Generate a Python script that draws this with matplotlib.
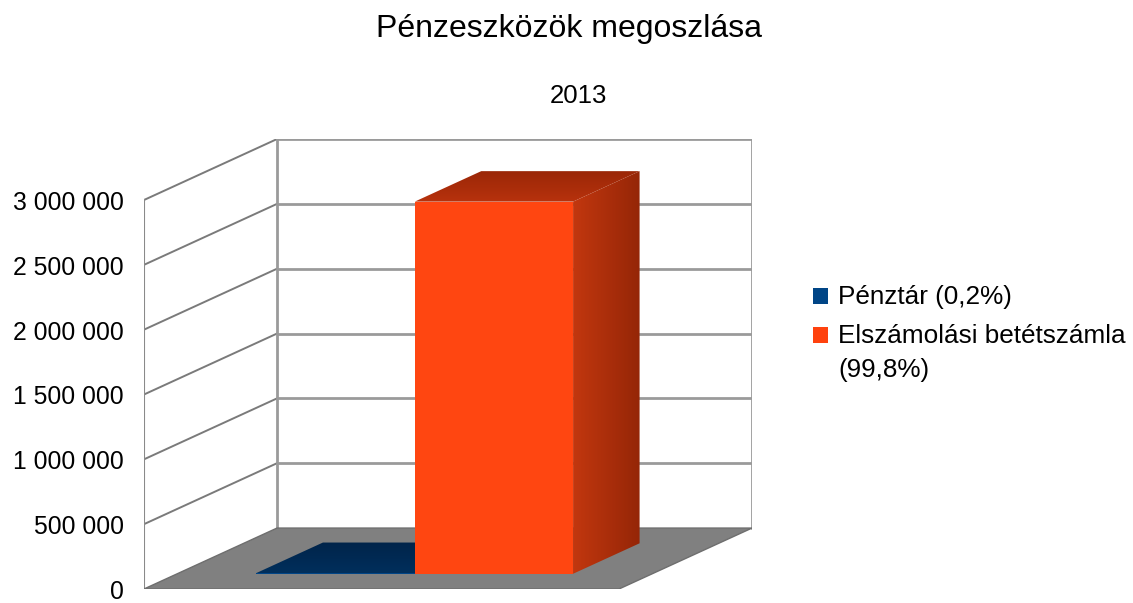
import matplotlib
matplotlib.use('Agg')
import matplotlib.pyplot as plt
import numpy as np
from matplotlib.patches import Polygon, Rectangle
from matplotlib.colors import to_rgb

plt.rcParams['font.family'] = ['Liberation Sans', 'DejaVu Sans']

# ---------------- data ----------------
title = 'Pénzeszközök megoszlása'
subtitle = '2013'
series_names = ['Pénztár (0,2%)', 'Elszámolási betétszámla\n(99,8%)']
values = [5800, 2870000]
series_colors = ['#004586', '#ff420e']
yticks = [0, 500000, 1000000, 1500000, 2000000, 2500000, 3000000]
ytick_labels = ['0', '500 000', '1 000 000', '1 500 000', '2 000 000', '2 500 000', '3 000 000']

# ---------------- styles ----------------
W, H = 1133, 603
YMAX = 3000000
DX = 0.28          # depth offset in category-x units
DY = 470000        # depth offset in value units
FRONT_W_PX = 475
FRONT_H_PX = 389
GRID = '#9a9a9a'
TOP_COLS = {0: ('#00244a', '#002f5c'), 1: ('#9a2707', '#b8320d')}
RIGHT_COLS = {0: ('#003363', '#002a52'), 1: ('#c2370f', '#952607')}
FRONT_COLS = {0: '#004586', 1: '#ff4611'}

fig = plt.figure(figsize=(W / 100, H / 100), dpi=100)
ax = fig.add_axes([144 / W, (H - 589) / H,
                   FRONT_W_PX * (1 + DX) / W,
                   FRONT_H_PX * (YMAX + DY) / YMAX / H])


def P(x, v, d):
    return (x + d * DX, v + d * DY)


def grad_poly(pts, c0, c1, axis, z):
    pts = np.array(pts)
    poly = Polygon(pts, closed=True, facecolor='none', edgecolor='none', zorder=z)
    ax.add_patch(poly)
    xmin, ymin = pts.min(axis=0)
    xmax, ymax = pts.max(axis=0)
    t = np.linspace(0, 1, 256)
    a = np.array(to_rgb(c0))
    b = np.array(to_rgb(c1))
    cols = a[None, :] * (1 - t[:, None]) + b[None, :] * t[:, None]
    if axis == 'x':
        img = cols[None, :, :]
    else:
        img = cols[:, None, :]   # origin lower: row 0 at ymin
    im = ax.imshow(img, extent=[xmin, xmax, ymin, ymax], origin='lower',
                   aspect='auto', zorder=z, interpolation='bilinear')
    im.set_clip_path(poly)


# floor
floor = Polygon([P(0, 0, 0), P(1, 0, 0), P(1, 0, 1), P(0, 0, 1)], closed=True,
                facecolor='#808080', edgecolor='#6e6e6e', lw=1.0, zorder=1)
ax.add_patch(floor)
# back wall
back = Polygon([P(0, 0, 1), P(1, 0, 1), P(1, YMAX, 1), P(0, YMAX, 1)], closed=True,
               facecolor='white', edgecolor='none', zorder=0)
ax.add_patch(back)
# left wall
left = Polygon([P(0, 0, 0), P(0, 0, 1), P(0, YMAX, 1), P(0, YMAX, 0)], closed=True,
               facecolor='white', edgecolor='none', zorder=0)
ax.add_patch(left)

for v in yticks:
    if v > 0:
        xs, ys = zip(P(0, v, 1), P(1, v, 1))
        ax.plot(xs, ys, color=GRID, lw=2.0, zorder=0.5, solid_capstyle='butt')
        xs, ys = zip(P(0, v, 0), P(0, v, 1))
        ax.plot(xs, ys, color='#7a7a7a', lw=1.4, zorder=0.5)
# wall edges
for x in (0, 1):
    xs, ys = zip(P(x, 0, 1), P(x, YMAX, 1))
    ax.plot(xs, ys, color=GRID, lw=2.0, zorder=0.5)
xs, ys = zip(P(0, 0, 0), P(0, YMAX, 0))
ax.plot(xs, ys, color='#8a8a8a', lw=1.5, zorder=0.5)

# bars
group_w = 2 / 3
bw = group_w / len(values)
d0, d1 = 0.25, 0.75
for i, v in enumerate(values):
    x0 = (1 - group_w) / 2 + i * bw
    x1 = x0 + bw
    z = 2 + i
    right = [P(x1, 0, d0), P(x1, 0, d1), P(x1, v, d1), P(x1, v, d0)]
    top = [P(x0, v, d0), P(x1, v, d0), P(x1, v, d1), P(x0, v, d1)]
    front = [P(x0, 0, d0), P(x1, 0, d0), P(x1, v, d0), P(x0, v, d0)]
    grad_poly(right, *RIGHT_COLS[i], 'x', z)
    grad_poly(top, TOP_COLS[i][1], TOP_COLS[i][0], 'y', z)
    ax.add_patch(Polygon(front, closed=True, facecolor=FRONT_COLS[i],
                         edgecolor='none', zorder=z + 0.1))

ax.set_xlim(0, 1 + DX)
ax.set_ylim(0, YMAX + DY)
ax.axis('off')

# y tick labels at front edge
for v, lab in zip(yticks, ytick_labels):
    ax.annotate(lab, xy=P(0, v, 0), xytext=(-20, -3), textcoords='offset pixels',
                ha='right', va='center', fontsize=17.8, color='black')

# titles
fig.text(569.5 / W, 1 - 29 / H, title, ha='center', va='center', fontsize=23)
fig.text(578 / W, 1 - 96 / H, subtitle, ha='center', va='center', fontsize=18.5)

# legend
leg_y = [296, 335]
for i, name in enumerate(series_names):
    yc = leg_y[i]
    fig.add_artist(Rectangle((813 / W, 1 - (yc + 8) / H), 15 / W, 16 / H,
                             transform=fig.transFigure, facecolor=series_colors[i],
                             edgecolor='none'))
    fig.text(838 / W, 1 - (yc - 11) / H, name, ha='left', va='top',
             fontsize=18.8, linespacing=1.5)

fig.savefig('out.png', dpi=100)
